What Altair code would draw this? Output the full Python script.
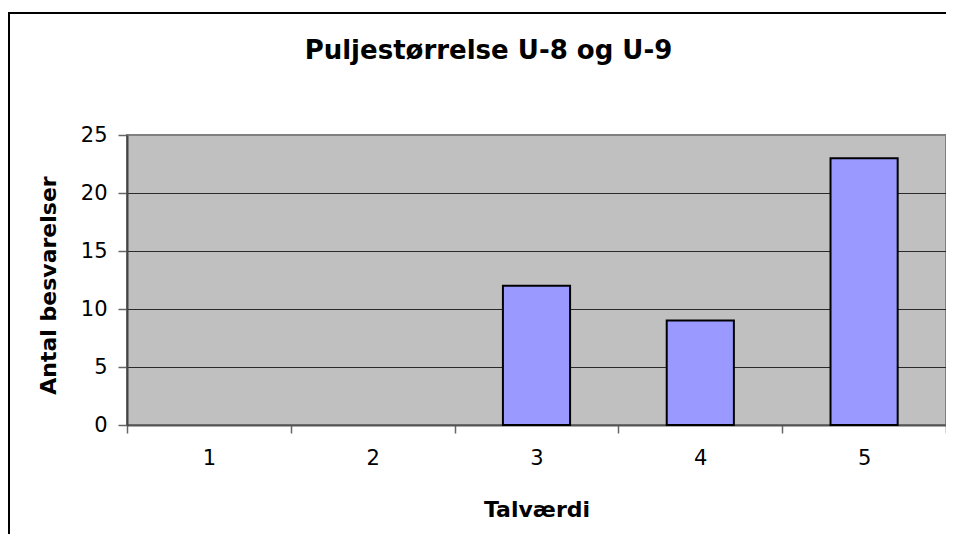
import altair as alt
import pandas as pd

# ---- data ----
categories = ["1", "2", "3", "4", "5"]
counts = [0, 0, 12, 9, 23]
y_ticks = [0, 5, 10, 15, 20, 25]
title_text = "Puljestørrelse U-8 og U-9"
x_title = "Talværdi"
y_title = "Antal besvarelser"

df = pd.DataFrame({"cat": categories, "n": counts})

FONT = "DejaVu Sans"
W, H = 819, 290

bars = alt.Chart(df).mark_bar(
    width=alt.RelativeBandSize(0.41),
    color="#9999FF",
    stroke="#000000",
    strokeWidth=2,
).encode(
    x=alt.X(
        "cat:N",
        sort=categories,
        scale=alt.Scale(domain=categories, paddingInner=0, paddingOuter=0),
        axis=alt.Axis(
            title=x_title,
            labelAngle=0,
            tickBand="extent",
            tickSize=8,
            tickColor="#666666",
            tickWidth=1.5,
            domainColor="#555555",
            domainWidth=2,
            labelFont=FONT,
            labelFontSize=21,
            labelColor="#000000",
            labelPadding=14,
            titleFont=FONT,
            titleFontSize=22,
            titleFontWeight="bold",
            titleColor="#000000",
            titleX=W / 2,
            titleY=91,
            titleAlign="center",
            titleBaseline="alphabetic",
            grid=False,
        ),
    ),
    y=alt.Y(
        "n:Q",
        scale=alt.Scale(domain=[0, 25], nice=False),
        axis=alt.Axis(
            values=y_ticks,
            title=y_title,
            tickSize=9,
            tickColor="#666666",
            tickWidth=1.5,
            domainColor="#444444",
            domainWidth=2,
            labelFont=FONT,
            labelFontSize=21,
            labelColor="#000000",
            labelPadding=11,
            grid=True,
            gridColor={"condition": {"test": "datum.value == 25", "value": "#808080"}, "value": "#2a2a2a"},
            gridWidth=1,
            titleFont=FONT,
            titleFontSize=22,
            titleFontWeight="bold",
            titleColor="#000000",
            titleAngle=-90,
            titleX=-72,
            titleY=150,
            titleAlign="center",
            titleBaseline="alphabetic",
        ),
    ),
    strokeOpacity=alt.condition(alt.datum.n > 0, alt.value(1), alt.value(0)),
)

frame = alt.Chart(alt.Data(values=[{"f": 1}])).mark_rect(
    fill="transparent", stroke="#000000", strokeWidth=2
).encode(
    x=alt.value(-118), x2=alt.value(840), y=alt.value(-122), y2=alt.value(430)
)

chart = alt.layer(bars, frame).properties(
    width=W,
    height=H,
    background="#FFFFFF",
    padding={"left": 119, "top": 127, "right": 0, "bottom": 109},
    autosize=alt.AutoSizeParams(type="none"),
    title=alt.TitleParams(
        title_text,
        font=FONT,
        fontSize=26,
        fontWeight="bold",
        color="#000000",
        anchor="middle",
        dx=-48,
        dy=73,
        offset=0,
        baseline="alphabetic",
    ),
).configure_view(
    fill="#C0C0C0", stroke="#808080", strokeWidth=2
)

chart.save("out.html", embed_options={"renderer": "svg", "actions": False})
